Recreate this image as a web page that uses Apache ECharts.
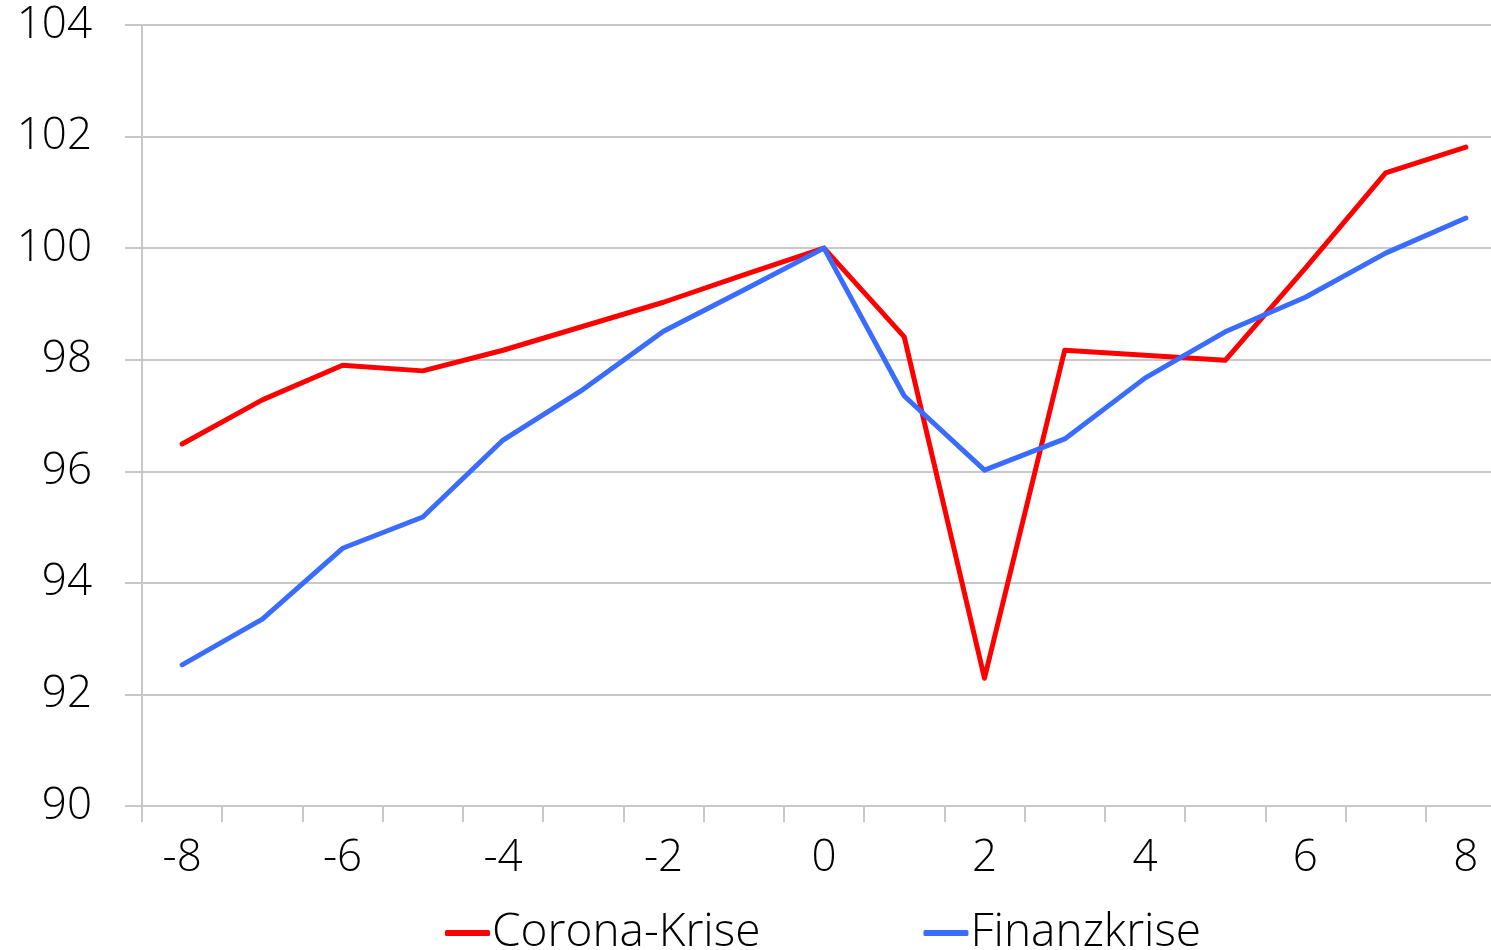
<!DOCTYPE html>
<html>
<head>
<meta charset="utf-8">
<script src="https://cdn.jsdelivr.net/npm/echarts@6/dist/echarts.min.js"></script>
<style>html,body{margin:0;padding:0;background:#fff;overflow:hidden;width:1491px;height:950px}#c{width:1506px;height:950px}</style>
</head>
<body>
<div id="c"></div>
<script>
const categories = ['-8','-7','-6','-5','-4','-3','-2','-1','0','1','2','3','4','5','6','7','8'];
const corona = [96.49,97.28,97.9,97.8,98.17,98.6,99.03,99.52,100,98.41,92.29,98.17,98.08,97.99,99.64,101.35,101.81];
const finanz = [92.53,93.35,94.62,95.18,96.56,97.47,98.51,99.25,100,97.35,96.02,96.58,97.67,98.5,99.12,99.91,100.54];
const yTicks = {min: 90, max: 104, interval: 2};

const gray = '#c8c8c8';
const font = 'Open Sans';
const chart = echarts.init(document.getElementById('c'));
chart.setOption({
  animation: false,
  grid: {left: 142, top: 25, right: 0, bottom: 144, containLabel: false},
  legend: {
    top: 905, left: 440,
    itemWidth: 45, itemHeight: 6, itemGap: 163,
    icon: 'roundRect',
    textStyle: {fontFamily: font, fontWeight: 300, fontSize: 46, color: '#000', padding: [0,0,0,-3]},
    data: ['Corona-Krise','Finanzkrise']
  },
  xAxis: {
    type: 'category', data: categories, boundaryGap: true,
    axisLine: {show: true, lineStyle: {color: gray, width: 2}},
    axisTick: {show: true, interval: 0, length: 16, lineStyle: {color: gray, width: 2}},
    axisLabel: {interval: 1, margin: 30, fontFamily: font, fontWeight: 300, fontSize: 44, color: '#000'},
    splitLine: {show: false}
  },
  yAxis: {
    type: 'value', min: yTicks.min, max: yTicks.max, interval: yTicks.interval,
    axisLine: {show: true, lineStyle: {color: gray, width: 2}},
    axisTick: {show: true, length: 17, lineStyle: {color: gray, width: 2}},
    axisLabel: {margin: 50, fontFamily: font, fontWeight: 300, fontSize: 44, color: '#000'},
    splitLine: {show: true, lineStyle: {color: gray, width: 2}}
  },
  series: [
    {name: 'Corona-Krise', type: 'line', data: corona, symbol: 'none', color: '#ff0000',
     lineStyle: {width: 5, color: '#ff0000', cap: 'round', join: 'round'}, z: 3},
    {name: 'Finanzkrise', type: 'line', data: finanz, symbol: 'none', color: '#3a6dff',
     lineStyle: {width: 5, color: '#3a6dff', cap: 'round', join: 'round'}, z: 4}
  ]
});
</script>
</body>
</html>
